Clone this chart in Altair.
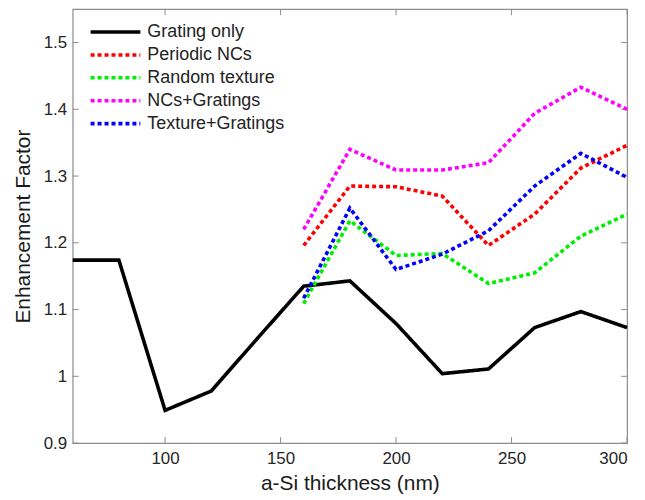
import altair as alt
import pandas as pd

thickness = [60, 80, 100, 120, 140, 160, 180, 200, 220, 240, 260, 280, 300]
grating_only = [1.174, 1.174, 0.949, 0.978, 1.057, 1.135, 1.143, 1.079, 1.004, 1.011, 1.073, 1.097, 1.073]

thick2 = [160, 180, 200, 220, 240, 260, 280, 300]
periodic_ncs = [1.196, 1.285, 1.284, 1.270, 1.196, 1.243, 1.312, 1.346]
random_texture = [1.109, 1.233, 1.181, 1.184, 1.139, 1.155, 1.210, 1.243]
ncs_gratings = [1.220, 1.340, 1.309, 1.309, 1.320, 1.394, 1.433, 1.400]
texture_gratings = [1.117, 1.252, 1.160, 1.183, 1.218, 1.285, 1.334, 1.298]

series_names = ["Grating only", "Periodic NCs", "Random texture", "NCs+Gratings", "Texture+Gratings"]
series_colors = ["#000000", "#ff0000", "#00ee00", "#ff00ff", "#0000ff"]

x_ticks = [100, 150, 200, 250, 300]
y_ticks = [0.9, 1.0, 1.1, 1.2, 1.3, 1.4, 1.5]

rows = []
for x, y in zip(thickness, grating_only):
    rows.append({"x": x, "y": y, "series": series_names[0]})
for name, vals in zip(series_names[1:], [periodic_ncs, random_texture, ncs_gratings, texture_gratings]):
    for x, y in zip(thick2, vals):
        rows.append({"x": x, "y": y, "series": name})
df = pd.DataFrame(rows)

W, H = 557, 436
FONT = "Liberation Sans"
TL = 6

xscale = alt.Scale(domain=[60, 300], nice=False, zero=False)
yscale = alt.Scale(domain=[0.9, 1.55], nice=False, zero=False)

lines = alt.Chart(df).mark_line(strokeWidth=3.6).encode(
    x=alt.X("x:Q", scale=xscale,
            axis=alt.Axis(values=x_ticks, title="a-Si thickness (nm)", tickSize=0, domain=False,
                          grid=False, labelPadding=8, titlePadding=6, format="d")),
    y=alt.Y("y:Q", scale=yscale,
            axis=alt.Axis(values=y_ticks, title="Enhancement Factor", tickSize=0, domain=False,
                          grid=False, labelPadding=6, titlePadding=10, format="~g")),
    color=alt.Color("series:N", scale=alt.Scale(domain=series_names, range=series_colors),
                    legend=alt.Legend(title=None, orient="none", legendX=16, legendY=11,
                                      symbolType="M-2.5,0H2.5", symbolSize=400, symbolStrokeWidth=3.6,
                                      symbolOffset=15,
                                      labelFontSize=18, labelFont=FONT, labelColor="#222222",
                                      rowPadding=2, labelOffset=20, padding=0)),
    strokeDash=alt.StrokeDash("series:N",
                              scale=alt.Scale(domain=series_names,
                                              range=[[1, 0], [4, 3], [4, 3], [4, 3], [4, 3]]),
                              legend=None),
    order=alt.Order("series:N"),
    detail="series:N",
)

xt = pd.DataFrame({"v": x_ticks})
yt = pd.DataFrame({"v": y_ticks})
tick_color = "#8c8c8c"

bottom_ticks = alt.Chart(xt).mark_rule(color=tick_color, strokeWidth=1).encode(
    x=alt.X("v:Q", scale=xscale), y=alt.value(H - TL), y2=alt.value(H))
top_ticks = alt.Chart(xt).mark_rule(color=tick_color, strokeWidth=1).encode(
    x=alt.X("v:Q", scale=xscale), y=alt.value(0), y2=alt.value(TL))
left_ticks = alt.Chart(yt).mark_rule(color=tick_color, strokeWidth=1).encode(
    y=alt.Y("v:Q", scale=yscale), x=alt.value(0), x2=alt.value(TL))
right_ticks = alt.Chart(yt).mark_rule(color=tick_color, strokeWidth=1).encode(
    y=alt.Y("v:Q", scale=yscale), x=alt.value(W - TL), x2=alt.value(W))

chart = alt.layer(bottom_ticks, top_ticks, left_ticks, right_ticks, lines).properties(
    width=W, height=H,
    autosize=alt.AutoSizeParams(type="none"),
    padding={"left": 65, "top": 0, "right": 10, "bottom": 50},
).configure_view(
    stroke=tick_color, strokeWidth=1.2
).configure_axis(
    labelFont=FONT, labelFontSize=17, labelColor="#262626",
    titleFont=FONT, titleFontSize=21, titleFontWeight="normal", titleColor="#1a1a1a",
)

chart.save("out.html", embed_options={"renderer": "svg", "actions": False})
